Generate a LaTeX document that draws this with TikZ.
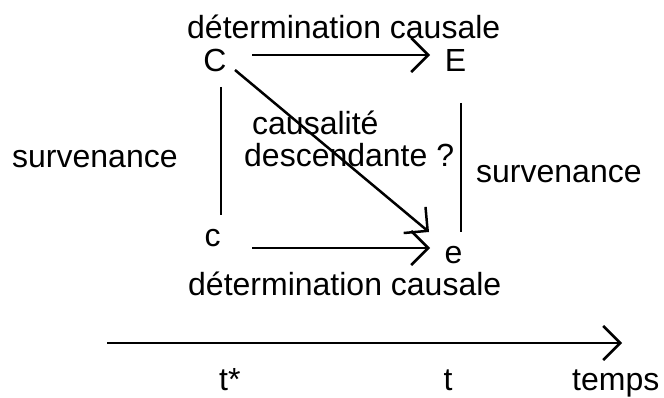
\documentclass[tikz,border=0pt]{standalone}
\usepackage{fontspec}
\setmainfont{Liberation Sans}
\usetikzlibrary{arrows.meta}
\begin{document}
\begin{tikzpicture}[x=1pt,y=-1pt,
  lbl/.style={inner sep=0pt, font=\fontsize{32pt}{38pt}\selectfont},
  ln/.style={line width=2.5pt},
  arr/.style={line width=2.5pt, -{Straight Barb[length=17pt,width=34pt,line width=2.5pt]}}]
\useasboundingbox (0,0) rectangle (664,398);
% text labels
\node[lbl, anchor=base west] (top) at (187,39) {détermination causale};
\node[lbl, anchor=base] (C) at (215,72) {C};
\node[lbl, anchor=base] (E) at (455.5,72) {E};
\node[lbl, anchor=base] (c) at (212.5,247) {c};
\node[lbl, anchor=base] (e) at (453.5,263) {e};
\node[lbl, anchor=base west] (survL) at (12,168) {survenance};
\node[lbl, anchor=base west] (survR) at (476,183) {survenance};
\node[lbl, anchor=base west] (caus1) at (252,135) {causalité};
\node[lbl, anchor=base west] (caus2) at (244,167) {descendante ?};
\node[lbl, anchor=base west] (bot) at (188,295) {détermination causale};
\node[lbl, anchor=base west] (tstar) at (219,390) {t*};
\node[lbl, anchor=base] (t) at (448,390) {t};
\node[lbl, anchor=base west] (temps) at (572,390) {temps};
% connectors
\draw[arr] ([shift={(37,-17)}]C.base) -- ([shift={(-25.5,-17)}]E.base);
\draw[arr] ([shift={(39.5,1)}]c.base) -- ([shift={(-23.5,-15)}]e.base);
\draw[arr] ([shift={(20,-2)}]C.base) -- ([shift={(-24.5,-31)}]e.base);
\draw[ln] ([shift={(6,15)}]C.base) -- ([shift={(8.5,-32)}]c.base);
\draw[ln] ([shift={(5.5,31)}]E.base) -- ([shift={(7.5,-31)}]e.base);
\coordinate (t0) at (107,343);
\draw[arr] (t0) -- ([shift={(50,-47)}]temps.base west);
\end{tikzpicture}
\end{document}
